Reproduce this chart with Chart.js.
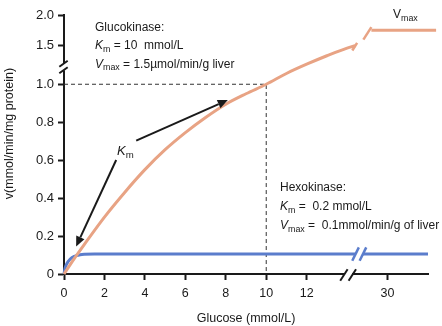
<!DOCTYPE html>
<html>
<head>
<meta charset="utf-8">
<title>Glucokinase and hexokinase</title>
<script src="https://cdn.jsdelivr.net/npm/chart.js@4.4.1/dist/chart.umd.min.js"></script>
<style>
  html, body { margin: 0; padding: 0; background: #fff; }
  #chart { display: block; }
</style>
</head>
<body>
<canvas id="chart" width="442" height="326"></canvas>
<script>
// ------------------------------------------------------------
// Data: reaction rate v against glucose concentration
// ------------------------------------------------------------
const GK_GLUCOSE = [0, 0.5, 1, 2, 3, 4, 5, 6, 7, 8, 9, 10, 11, 12, 13, 14, 14.4];
const GK_RATE = [0, 0.08, 0.155, 0.3, 0.43, 0.55, 0.655, 0.745, 0.825, 0.895, 0.95, 1.0, 1.14, 1.26, 1.37, 1.47, 1.5];

// glucokinase plateau, drawn on the far side of the axis break
const GK_PLATEAU_GLUCOSE = [26, 42];
const GK_PLATEAU_RATE = [1.75, 1.75];

const HK_GLUCOSE = [0, 0.05, 0.1, 0.2, 0.3, 0.4, 0.5, 0.6, 0.8, 1, 1.5, 14, 40];
const HK_RATE = [0, 0.03, 0.045, 0.065, 0.078, 0.087, 0.093, 0.097, 0.102, 0.104, 0.105, 0.105, 0.105];

// dashed guide to the glucokinase Km
const KM_GLUCOSE = 10;
const KM_RATE = 1.0;

const X_TICKS = [0, 2, 4, 6, 8, 10, 12, 30];
const Y_TICKS = [0, 0.2, 0.4, 0.6, 0.8, 1.0, 1.5, 2.0];
const Y_TICK_LABELS = ["0", "0.2", "0.4", "0.6", "0.8", "1.0", "1.5", "2.0"];

// ------------------------------------------------------------
// Both axes are broken. Each piece is linear; these anchors stitch
// real values onto one continuous axis coordinate.
// ------------------------------------------------------------
const X_REAL = [0, 14.5, 26, 42];
const X_AXIS = [0, 14.5, 15.2, 18.4];
const Y_REAL = [0, 1.0, 1.5, 2.0];
const Y_AXIS = [0, 1.0, 1.203, 1.365];

function piecewise(from, to, v) {
  for (let i = 1; i < from.length; i++) {
    if (v <= from[i] || i === from.length - 1) {
      const t = (v - from[i - 1]) / (from[i] - from[i - 1]);
      return to[i - 1] + t * (to[i] - to[i - 1]);
    }
  }
}
const xToAxis = v => piecewise(X_REAL, X_AXIS, v);
const yToAxis = v => piecewise(Y_REAL, Y_AXIS, v);

const points = (xs, ys) => xs.map((x, i) => ({ x: xToAxis(x), y: yToAxis(ys[i]) }));

const ORANGE = "#e8a384";
const BLUE = "#5b7dcc";
const INK = "#1a1a1a";
const FONT = '"Liberation Sans", Arial, Helvetica, sans-serif';

// where the break marks sit, in axis coordinates
const X_BREAK_AT = 14.05;
const Y_BREAK_AT = 1.091;
const HK_BREAK_AT = 14.6;

// ------------------------------------------------------------
// Drawing helpers for the annotations
// ------------------------------------------------------------
function slash(ctx, cx, cy, dx, dy) {
  ctx.beginPath();
  ctx.moveTo(cx - dx, cy + dy);
  ctx.lineTo(cx + dx, cy - dy);
  ctx.stroke();
}

function arrow(ctx, x0, y0, x1, y1) {
  const a = Math.atan2(y1 - y0, x1 - x0);
  const head = 10, half = 4.5;
  const bx = x1 - head * Math.cos(a), by = y1 - head * Math.sin(a);
  ctx.beginPath();
  ctx.moveTo(x0, y0);
  ctx.lineTo(bx, by);
  ctx.stroke();
  ctx.beginPath();
  ctx.moveTo(x1, y1);
  ctx.lineTo(bx + half * Math.sin(a), by - half * Math.cos(a));
  ctx.lineTo(bx - half * Math.sin(a), by + half * Math.cos(a));
  ctx.closePath();
  ctx.fill();
}

// text with italic symbols and subscripts: parts = [[text, style], ...]
function richText(ctx, x, y, parts, size = 12) {
  for (const [text, style] of parts) {
    const sub = style === "sub";
    const italic = style === "i";
    ctx.font = `${italic ? "italic " : ""}${sub ? size * 0.74 : size}px ${FONT}`;
    ctx.fillText(text, x, y + (sub ? 2.5 : 0));
    x += ctx.measureText(text).width;
  }
}

const annotations = {
  id: "annotations",
  afterDraw(chart) {
    const { ctx, chartArea, scales: { x, y } } = chart;
    ctx.save();
    ctx.lineCap = "butt";

    // y axis break
    const yb = y.getPixelForValue(Y_BREAK_AT);
    const yl = chartArea.left;
    ctx.fillStyle = "#fff";
    ctx.fillRect(yl - 3, yb - 3.3, 6, 6.6);
    ctx.strokeStyle = INK;
    ctx.lineWidth = 2;
    slash(ctx, yl - 0.5, yb - 3.3, 4.2, 3);
    slash(ctx, yl - 0.5, yb + 3.3, 4.2, 3);

    // x axis break
    const xb = x.getPixelForValue(X_BREAK_AT);
    const xl = chartArea.bottom;
    ctx.fillStyle = "#fff";
    ctx.fillRect(xb - 4, xl - 3, 8, 6);
    slash(ctx, xb - 4.2, xl + 1, 3.7, 5.7);
    slash(ctx, xb + 4.2, xl + 1, 3.7, 5.7);

    // hexokinase line break
    const hx = x.getPixelForValue(HK_BREAK_AT);
    const hy = y.getPixelForValue(yToAxis(HK_RATE[HK_RATE.length - 1]));
    ctx.fillStyle = "#fff";
    ctx.fillRect(hx - 3.7, hy - 3, 7.4, 6);
    ctx.strokeStyle = BLUE;
    ctx.lineWidth = 2.5;
    slash(ctx, hx - 3.7, hy, 3.3, 6.7);
    slash(ctx, hx + 3.7, hy, 3.3, 6.7);

    // glucokinase break caps
    const gkEnd = chart.getDatasetMeta(0).data.at(-1);
    const gkStart = chart.getDatasetMeta(1).data[0];
    ctx.strokeStyle = ORANGE;
    ctx.lineWidth = 2.5;
    slash(ctx, gkEnd.x - 0.5, gkEnd.y + 1, 2.4, 3.8);
    slash(ctx, gkStart.x - 4, gkStart.y + 3, 4, 6.2);

    // Km arrows
    ctx.strokeStyle = INK;
    ctx.fillStyle = INK;
    ctx.lineWidth = 2;
    arrow(ctx, x.getPixelForValue(2.58), y.getPixelForValue(0.601),
               x.getPixelForValue(0.6), y.getPixelForValue(0.145));
    arrow(ctx, x.getPixelForValue(3.57), y.getPixelForValue(0.703),
               x.getPixelForValue(8.1), y.getPixelForValue(0.917));

    // text
    ctx.fillStyle = INK;
    ctx.textBaseline = "alphabetic";
    ctx.textAlign = "left";
    richText(ctx, 117, 155, [["K", "i"], ["m", "sub"]], 13);

    richText(ctx, 95, 30.5, [["Glucokinase:"]]);
    richText(ctx, 95, 49, [["K", "i"], ["m", "sub"], [" = 10  mmol/L"]]);
    richText(ctx, 95, 67.5, [["V", "i"], ["max", "sub"], [" = 1.5\u00b5mol/min/g liver"]]);

    richText(ctx, 393, 18, [["V"], ["max", "sub"]]);

    richText(ctx, 280, 190.5, [["Hexokinase:"]]);
    richText(ctx, 280, 210, [["K", "i"], ["m", "sub"], [" =  0.2 mmol/L"]]);
    richText(ctx, 280, 229, [["V", "i"], ["max", "sub"], [" =  0.1mmol/min/g of liver"]]);

    // y axis title
    ctx.save();
    ctx.translate(10, 133.5);
    ctx.rotate(-Math.PI / 2);
    ctx.textAlign = "center";
    ctx.textBaseline = "middle";
    ctx.font = `12.5px ${FONT}`;
    ctx.fillText("v(mmol/min/mg protein)", 0, 0);
    ctx.restore();

    ctx.restore();
  },
};

// ------------------------------------------------------------
// Chart
// ------------------------------------------------------------
const axisStyle = {
  grid: { display: true, drawOnChartArea: false, drawTicks: true, tickLength: 6, tickWidth: 2, tickColor: INK },
  border: { display: true, color: INK, width: 2 },
};

new Chart(document.getElementById("chart"), {
  type: "line",
  data: {
    datasets: [
      {
        label: "Glucokinase",
        data: points(GK_GLUCOSE, GK_RATE),
        borderColor: ORANGE,
        borderWidth: 3,
        cubicInterpolationMode: "monotone",
        clip: false,
      },
      {
        label: "Glucokinase plateau",
        data: points(GK_PLATEAU_GLUCOSE, GK_PLATEAU_RATE),
        borderColor: ORANGE,
        borderWidth: 3,
        clip: false,
      },
      {
        label: "Hexokinase",
        data: points(HK_GLUCOSE, HK_RATE),
        borderColor: BLUE,
        borderWidth: 3,
        cubicInterpolationMode: "monotone",
        clip: false,
      },
      {
        label: "Km guide",
        data: points([0, KM_GLUCOSE, KM_GLUCOSE], [KM_RATE, KM_RATE, 0]),
        borderColor: "#333",
        borderWidth: 1,
        borderDash: [4, 3],
        order: 5,
      },
    ],
  },
  options: {
    responsive: false,
    animation: false,
    devicePixelRatio: 1,
    layout: { padding: { top: 15, right: 14, bottom: 0, left: 0 } },
    elements: { point: { radius: 0, hoverRadius: 0 }, line: { fill: false } },
    plugins: { legend: { display: false }, tooltip: { enabled: false } },
    scales: {
      x: {
        type: "linear",
        min: 0,
        max: 18,
        bounds: "data",
        ...axisStyle,
        afterFit(scale) { scale.height = 52; },
        afterBuildTicks(scale) { scale.ticks = X_TICKS.map(v => ({ value: xToAxis(v) })); },
        ticks: {
          color: INK,
          padding: 6,
          maxRotation: 0,
          autoSkip: false,
          font: { family: FONT, size: 12.5 },
          callback: (value, index) => String(X_TICKS[index]),
        },
        title: {
          display: true,
          text: "Glucose (mmol/L)",
          color: INK,
          padding: { top: 0, bottom: 0 },
          font: { family: FONT, size: 12.5 },
        },
      },
      y: {
        type: "linear",
        min: 0,
        max: yToAxis(2.0),
        bounds: "data",
        ...axisStyle,
        afterFit(scale) { scale.width = 64; },
        afterBuildTicks(scale) { scale.ticks = Y_TICKS.map(v => ({ value: yToAxis(v) })); },
        ticks: {
          color: INK,
          padding: 4,
          autoSkip: false,
          font: { family: FONT, size: 13 },
          callback: (value, index) => Y_TICK_LABELS[index],
        },
      },
    },
  },
  plugins: [annotations],
});
</script>
</body>
</html>
